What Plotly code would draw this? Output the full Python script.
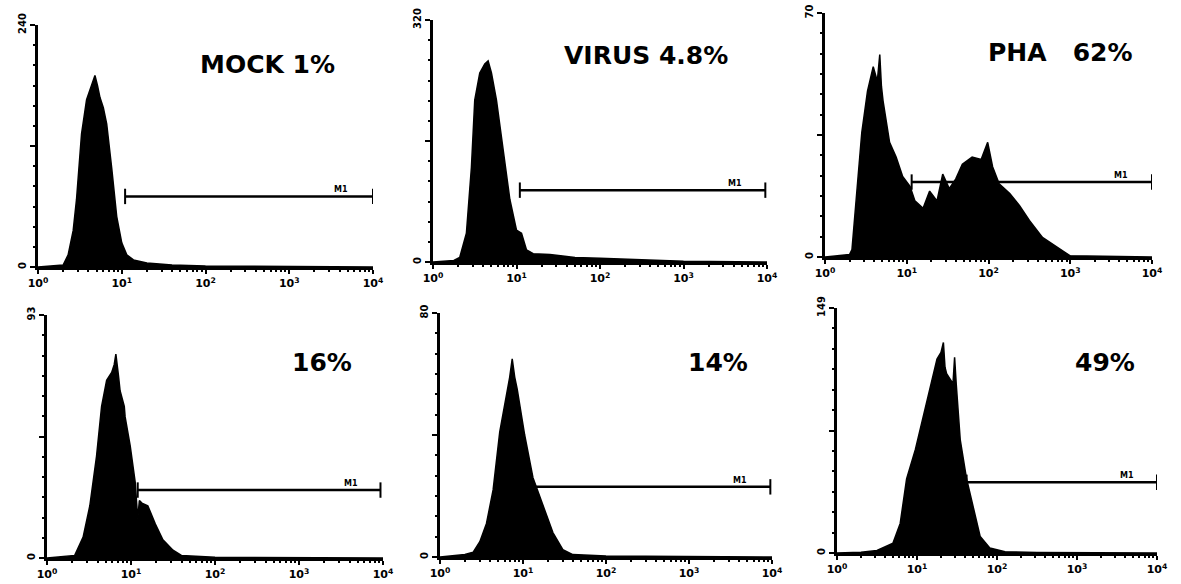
import plotly.graph_objects as go

# ---------------- data ----------------
panel_titles = ["MOCK 1%", "VIRUS 4.8%", "PHA   62%", "16%", "14%", "49%"]
ymax_labels = ["240", "320", "70", "93", "80", "149"]
ymax_values = [240, 320, 70, 93, 80, 149]
x_tick_vals = [1, 10, 100, 1000, 10000]
x_tick_labels = ["10<sup>0</sup>", "10<sup>1</sup>", "10<sup>2</sup>", "10<sup>3</sup>", "10<sup>4</sup>"]

# fluorescence position in decades (log10) and event counts
mock_decade = [0.0, 0.2, 0.3, 0.36, 0.42, 0.46, 0.52, 0.58, 0.63, 0.66, 0.68, 0.71, 0.74, 0.78,
               0.82, 0.88, 0.94, 1.0, 1.06, 1.14, 1.3, 1.6, 2.0, 4.0]
mock_counts = [0, 1, 2, 12, 36, 67, 132, 166, 178, 185, 190, 180, 168, 158,
               142, 98, 50, 24, 12, 7, 4, 2, 1, 0]

virus_decade = [0.0, 0.25, 0.32, 0.40, 0.46, 0.50, 0.56, 0.62, 0.66, 0.70, 0.76, 0.84, 0.92, 1.0,
                1.06, 1.12, 1.2, 1.4, 1.7, 2.0, 2.3, 2.6, 3.0, 4.0]
virus_counts = [0, 2, 6, 38, 125, 214, 250, 262, 266, 250, 214, 147, 83, 42,
                38, 16, 11, 10, 6, 5, 4, 2, 1, 0]

pha_decade = [0.0, 0.15, 0.3, 0.33, 0.37, 0.45, 0.52, 0.59, 0.64, 0.67, 0.69, 0.71, 0.79, 0.87,
              0.95, 1.04, 1.10, 1.2, 1.28, 1.37, 1.44, 1.52, 1.6, 1.68, 1.8, 1.91, 1.99, 2.05,
              2.13, 2.26, 2.38, 2.5, 2.66, 2.83, 2.93, 3.0, 4.0]
pha_counts = [0, 0.4, 0.7, 2.1, 12.6, 35.7, 47.6, 54.6, 50.4, 58.1, 49, 44.8, 32.9, 28.7,
              23.1, 20.3, 16.1, 14, 18.9, 16.1, 23.8, 19.6, 22.4, 26.6, 28.7, 28, 32.9, 25.9,
              21, 18.2, 14.7, 10.5, 5.6, 2.8, 1.4, 0.35, 0]

p4_decade = [0.0, 0.2, 0.33, 0.43, 0.51, 0.59, 0.65, 0.71, 0.77, 0.80, 0.82, 0.85, 0.87, 0.92,
             0.93, 0.99, 1.05, 1.08, 1.10, 1.13, 1.2, 1.29, 1.38, 1.5, 1.6, 2.0, 4.0]
p4_counts = [0, 0.5, 1, 8, 20, 39, 58, 68, 71, 74, 78, 70, 64, 58,
             54, 43, 29, 15, 22, 21, 20, 13, 7, 3, 1, 0.3, 0]

p5_decade = [0.0, 0.3, 0.4, 0.48, 0.56, 0.64, 0.72, 0.80, 0.84, 0.87, 0.90, 0.93, 1.02, 1.12,
             1.24, 1.36, 1.48, 1.6, 2.0, 4.0]
p5_counts = [0, 0.8, 1.6, 5, 11, 22, 41, 53, 59, 65, 59, 55, 40, 26,
             17, 8, 2.4, 0.8, 0.3, 0]

p6_decade = [0.0, 0.3, 0.5, 0.7, 0.79, 0.87, 0.98, 1.04, 1.12, 1.19, 1.25, 1.30, 1.33, 1.35,
             1.37, 1.45, 1.47, 1.49, 1.54, 1.62, 1.7, 1.79, 1.91, 2.1, 2.5, 4.0]
p6_counts = [0, 0.4, 1.5, 6, 18, 45, 63, 75, 91, 106, 118, 122, 128, 113,
             109, 103, 119, 103, 69, 45, 28, 10, 3, 0.7, 0.3, 0]

hist_decades = [mock_decade, virus_decade, pha_decade, p4_decade, p5_decade, p6_decade]
hist_counts = [mock_counts, virus_counts, pha_counts, p4_counts, p5_counts, p6_counts]

# M1 gate: start/end in decades, level in counts
gate_start = [1.04, 1.04, 1.06, 1.08, 1.12, 1.62]
gate_end = [4.0, 3.98, 4.0, 3.97, 3.98, 4.0]
gate_level = [70, 95, 21.5, 26, 23, 43]

# ---------------- layout (pixel geometry of each panel) ----------------
W, H = 1181, 584
panel_px = [  # x_left, x_right, y_bottom, y_top (pixels)
    (38, 373, 267, 25),
    (433, 767, 262, 20),
    (825, 1152, 257, 13),
    (47, 383, 558, 315),
    (440, 772, 557, 313),
    (837, 1157, 553, 308),
]
title_px = [(267, 64), (646, 56), (1060, 52), (322, 362), (718, 362), (1105, 362)]

fig = go.Figure()
layout = dict(
    width=W, height=H, margin=dict(l=0, r=0, t=0, b=0, autoexpand=False),
    paper_bgcolor="white", plot_bgcolor="white", showlegend=False,
    annotations=[],
)

for i in range(6):
    xa = "x" if i == 0 else f"x{i+1}"
    ya = "y" if i == 0 else f"y{i+1}"
    xl, xr, yb, yt = panel_px[i]
    ymax = ymax_values[i]

    fig.add_trace(go.Scatter(
        x=[10 ** d for d in hist_decades[i]], y=hist_counts[i],
        mode="lines", fill="tozeroy", fillcolor="black",
        line=dict(color="black", width=1.5), xaxis=xa, yaxis=ya, hoverinfo="skip"))

    fig.add_trace(go.Scatter(
        x=[10 ** gate_start[i], 10 ** gate_end[i]], y=[gate_level[i], gate_level[i]],
        mode="lines+markers", line=dict(color="black", width=2.5),
        marker=dict(symbol="line-ns-open", size=11, line=dict(width=2, color="black")),
        xaxis=xa, yaxis=ya, hoverinfo="skip"))

    ax_common = dict(showgrid=False, zeroline=False, showline=True, automargin=False,
                     linecolor="black", linewidth=3, ticks="outside",
                     tickcolor="black", tickwidth=2)
    layout["xaxis" if i == 0 else f"xaxis{i+1}"] = dict(
        ax_common, type="log", range=[0, 4], domain=[xl / W, xr / W],
        anchor=ya, tickvals=x_tick_vals, ticktext=x_tick_labels, ticklen=4,
        tickfont=dict(family="DejaVu Sans", size=11, color="black", weight="bold"),
        minor=dict(ticks="outside", ticklen=2, tickcolor="black", tickwidth=2, dtick="D1"))
    layout["yaxis" if i == 0 else f"yaxis{i+1}"] = dict(
        ax_common, range=[0, ymax], domain=[1 - yb / H, 1 - yt / H],
        anchor=xa, tickvals=[0, ymax / 2, ymax], ticktext=["0", "", ymax_labels[i]],
        ticklen=5, tickangle=-90,
        tickfont=dict(family="DejaVu Sans", size=10, color="black", weight="bold"),
        minor=dict(ticks="outside", ticklen=2, tickcolor="black", tickwidth=2,
                   dtick=ymax / 12, tick0=0))

    tx, ty = title_px[i]
    layout["annotations"].append(dict(
        text=panel_titles[i], xref="paper", yref="paper", x=tx / W, y=1 - ty / H,
        xanchor="center", yanchor="middle", showarrow=False,
        font=dict(family="DejaVu Sans", size=25, color="black", weight="bold")))
    layout["annotations"].append(dict(
        text="M1", xref=xa, yref=ya, x=3.62, y=gate_level[i],
        xanchor="center", yanchor="bottom", yshift=0, showarrow=False,
        font=dict(family="DejaVu Sans", size=8, color="black", weight="bold")))

fig.update_layout(**layout)
fig.write_html("out.html")
